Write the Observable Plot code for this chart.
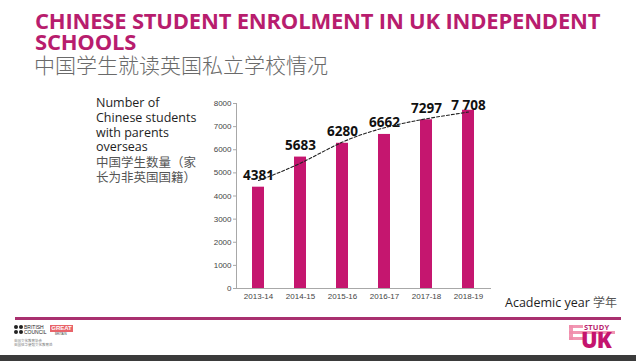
<!DOCTYPE html>
<html>
<head>
<meta charset="utf-8">
<script src="https://cdn.jsdelivr.net/npm/d3@7"></script>
<script src="https://cdn.jsdelivr.net/npm/@observablehq/plot@0.6"></script>
<style>
  html, body { margin: 0; padding: 0; background: #fff; }
  #page { position: relative; width: 636px; height: 361px; overflow: hidden; background: #fff; }
  .abs { position: absolute; white-space: nowrap; }
  .title { left: 35px; font-family: "Open Sans", sans-serif; font-weight: 700; font-size: 22px; line-height: 22px; color: #b81d6e; letter-spacing: -0.2px; }
  #subtitle { left: 34px; top: 52px; font-family: "Noto Sans CJK SC", sans-serif; font-size: 21px; line-height: 24px; color: #6a6a6a; font-weight: 300; }
  .ylab { left: 96px; font-family: "Open Sans", sans-serif; font-size: 12.5px; line-height: 14px; color: #1e1e1e; }
  .ylabcn { left: 96px; font-family: "Noto Sans CJK SC", sans-serif; font-size: 12.5px; line-height: 14px; color: #555; }
  #xlab { left: 505px; top: 293px; font-family: "Open Sans", sans-serif; font-size: 12.5px; color: #1e1e1e; }
  #xlab span { font-family: "Noto Sans CJK SC", sans-serif; color: #555; font-size: 12px; }
  #chart { left: 0; top: 90px; }
  #chart svg { overflow: visible; }
  #rule { left: 15px; top: 317px; width: 606px; height: 3px; background: #a9306f; }
  #band { left: 0; top: 355px; width: 636px; height: 6px; background: #3b3b3b; }
  .dot { width: 4px; height: 4px; border-radius: 50%; background: #222; }
  .bc { left: 24px; font-family: "Liberation Sans", sans-serif; font-size: 5px; line-height: 4px; color: #222; }
  #great { left: 50px; top: 325px; width: 23px; height: 7px; background: #e8646a; color: #fff; font-family: "Liberation Sans", sans-serif; font-size: 6px; font-weight: 700; line-height: 7px; text-align: center; }
  #britain { left: 55px; top: 333px; font-family: "Liberation Sans", sans-serif; font-size: 3px; line-height: 3px; color: #444; }
  .bcsmall { left: 14px; font-family: "Noto Sans CJK SC", sans-serif; font-size: 3.5px; line-height: 3px; color: #777; }
  #study { left: 584px; top: 323px; font-family: "Open Sans", sans-serif; font-weight: 700; font-size: 7.5px; line-height: 8px; color: #b81d6e; letter-spacing: 0.2px; }
  #uk { left: 581px; top: 328px; font-family: "Open Sans", sans-serif; font-weight: 800; font-size: 22px; line-height: 22px; color: #c4146e; letter-spacing: -1px; }
  .ukbar { height: 3px; background: #f08cab; opacity: 0.9; }
</style>
</head>
<body>
<div id="page">
  <div class="abs title" style="top:9px">CHINESE STUDENT ENROLMENT IN UK INDEPENDENT</div>
  <div class="abs title" style="top:30px">SCHOOLS</div>
  <div id="subtitle" class="abs">中国学生就读英国私立学校情况</div>
  <div class="abs ylab" style="top:96px">Number of</div>
  <div class="abs ylab" style="top:111px">Chinese students</div>
  <div class="abs ylab" style="top:126px">with parents</div>
  <div class="abs ylab" style="top:140px">overseas</div>
  <div class="abs ylabcn" style="top:155px">中国学生数量（家</div>
  <div class="abs ylabcn" style="top:170px">长为非英国国籍）</div>
  <div id="chart" class="abs"></div>
  <div id="xlab" class="abs">Academic year <span>学年</span></div>
  <div id="rule" class="abs"></div>
  <div class="abs dot" style="left:14px;top:325px"></div>
  <div class="abs dot" style="left:19px;top:325px"></div>
  <div class="abs dot" style="left:14px;top:330px"></div>
  <div class="abs dot" style="left:19px;top:330px"></div>
  <div class="abs bc" style="top:325px">BRITISH</div>
  <div class="abs bc" style="top:329.5px">COUNCIL</div>
  <div id="great" class="abs">GREAT</div>
  <div id="britain" class="abs">BRITAIN</div>
  <div class="abs bcsmall" style="top:339px">英国文化教育协会</div>
  <div class="abs bcsmall" style="top:342.5px">英国驻华使馆文化教育处</div>
  <div class="abs ukbar" style="left:569px;top:325px;width:4px;height:15px"></div>
  <div class="abs ukbar" style="left:569px;top:325px;width:14px"></div>
  <div class="abs ukbar" style="left:569px;top:331px;width:46px"></div>
  <div class="abs ukbar" style="left:569px;top:337px;width:14px"></div>
  <div id="uk" class="abs">UK</div>
  <div id="study" class="abs">STUDY</div>
  <div id="band" class="abs"></div>
</div>
<script>
const years = ["2013-14", "2014-15", "2015-16", "2016-17", "2017-18", "2018-19"];
const students = [4381, 5683, 6280, 6662, 7297, 7708];
const valueLabels = ["4381", "5683", "6280", "6662", "7297", "7 708"];
const trend = [4670, 5420, 6330, 6950, 7340, 7630];
const yTicks = [0, 1000, 2000, 3000, 4000, 5000, 6000, 7000, 8000];

const data = years.map((year, i) => ({
  year, value: students[i], label: valueLabels[i], trend: trend[i]
}));

const chart = Plot.plot({
  width: 636,
  height: 220,
  marginTop: 13,
  marginBottom: 22,
  marginLeft: 236,
  marginRight: 145,
  style: { background: "transparent", fontFamily: "Liberation Sans, Arial, sans-serif", fontSize: "8px", color: "#444", overflow: "visible" },
  x: { domain: years, paddingInner: 0.71, paddingOuter: 0.377, label: null },
  y: { domain: [0, 8000], label: null },
  marks: [
    Plot.barY(data, { x: "year", y: "value", fill: "#c5166f" }),
    Plot.ruleY([0], { stroke: "#a8a8a8", strokeWidth: 1 }),
    Plot.frame({ anchor: "left", stroke: "#a8a8a8" }),
    Plot.axisY({ ticks: yTicks, tickSize: 3, tickPadding: 2, stroke: "#a8a8a8", fill: "#444", fontSize: 8, tickFormat: d => String(d) }),
    Plot.axisX({ tickSize: 0, tickPadding: 5, fill: "#444", fontSize: 8 }),
    Plot.text(data.slice(0, 5), { x: "year", y: "value", text: "label", dy: -11.5, fill: "#111", fontSize: 13.5, fontWeight: "bold", fontFamily: "Open Sans, sans-serif" }),
    Plot.text(data.slice(5), { x: "year", y: "value", text: "label", dy: -5, fill: "#111", fontSize: 13.5, fontWeight: "bold", fontFamily: "Open Sans, sans-serif" }),
    Plot.lineY(data, { x: "year", y: "trend", curve: "natural", stroke: "#222", strokeWidth: 1.1, strokeDasharray: "3,2" })
  ]
});
document.getElementById("chart").appendChild(chart);
</script>
</body>
</html>
